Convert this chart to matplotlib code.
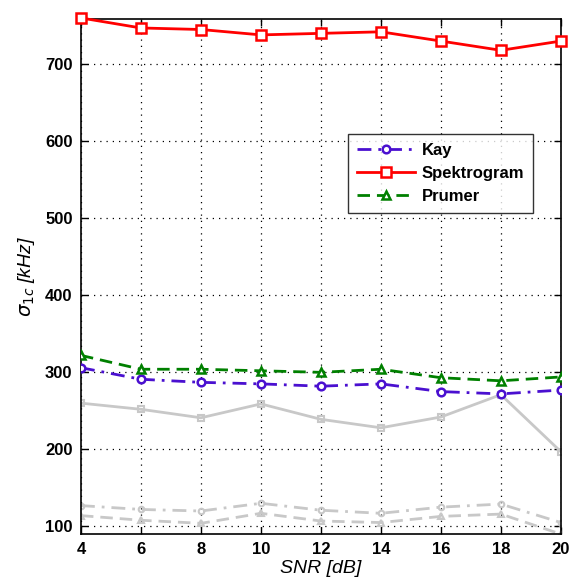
import matplotlib
matplotlib.use("Agg")
import matplotlib.pyplot as plt

snr = [4, 6, 8, 10, 12, 14, 16, 18, 20]
kay = [306, 291, 287, 285, 282, 285, 275, 272, 277]
spektrogram = [760, 747, 745, 738, 740, 742, 730, 718, 730]
prumer = [322, 304, 304, 302, 300, 304, 293, 289, 294]
gray_solid = [260, 252, 241, 259, 239, 228, 242, 271, 197]
gray_dashdot = [127, 122, 120, 130, 121, 117, 125, 129, 105]
gray_dashed = [114, 108, 104, 117, 107, 105, 113, 116, 90]

xticks = [4, 6, 8, 10, 12, 14, 16, 18, 20]
yticks = [100, 200, 300, 400, 500, 600, 700]

plt.rcParams['font.family'] = ['Liberation Sans', 'DejaVu Sans']

fig = plt.figure(figsize=(5.7, 5.85), dpi=100)
ax = fig.add_axes([0.142, 0.087, 0.842, 0.881])

dash = (0, (4.5, 2.5))
dashdot = (0, (5, 2.5, 1, 2.5))

gray = '#c8c8c8'
ax.plot(snr, gray_solid, '-', color=gray, lw=2, marker='s', ms=5,
        mfc='none', mec=gray, mew=1.5, zorder=2)
ax.plot(snr, gray_dashdot, linestyle=dashdot, color=gray, lw=2, marker='o', ms=4,
        mfc='none', mec=gray, mew=1.5, zorder=2)
ax.plot(snr, gray_dashed, linestyle=dash, color=gray, lw=2, marker='^', ms=4,
        mfc='none', mec=gray, mew=1.5, zorder=2)

l1, = ax.plot(snr, kay, linestyle=dashdot, color='#4a10d0', lw=2, marker='o', ms=5.5,
              mfc='white', mec='#4a10d0', mew=1.8, label='Kay', zorder=3)
l2, = ax.plot(snr, spektrogram, '-', color='#ff0000', lw=2, marker='s', ms=6.5,
              mfc='white', mec='#ff0000', mew=1.8, label='Spektrogram', zorder=3,
              clip_on=False)
l3, = ax.plot(snr, prumer, linestyle=dash, color='#008000', lw=2, marker='^', ms=5.5,
              mfc='white', mec='#008000', mew=1.8, label='Prumer', zorder=3)

ax.set_xlim(4, 20)
ax.set_ylim(90, 759)
ax.set_xticks(xticks)
ax.set_yticks(yticks)
ax.tick_params(direction='in', top=True, right=True, length=5, width=1,
               labelsize=12, pad=6)
for lab in ax.get_xticklabels() + ax.get_yticklabels():
    lab.set_fontweight('bold')

ax.grid(True, color='black', linestyle=(0, (1, 4)), linewidth=0.9)
for s in ax.spines.values():
    s.set_linewidth(1.2)

ax.set_xlabel('SNR [dB]', fontsize=14, style='italic', labelpad=2)
ax.set_ylabel(r'$\sigma_{1c}$ [kHz]', fontsize=14, style='italic', labelpad=6)

leg = ax.legend(handles=[l1, l2, l3], loc='upper left',
                bbox_to_anchor=(0.54, 0.792), frameon=True, fancybox=False,
                edgecolor='black', prop={'weight': 'bold', 'size': 12},
                handlelength=3.5, borderpad=0.5, labelspacing=0.5,
                handletextpad=0.4)
leg.get_frame().set_linewidth(1.0)

fig.savefig('out.png', dpi=100)
